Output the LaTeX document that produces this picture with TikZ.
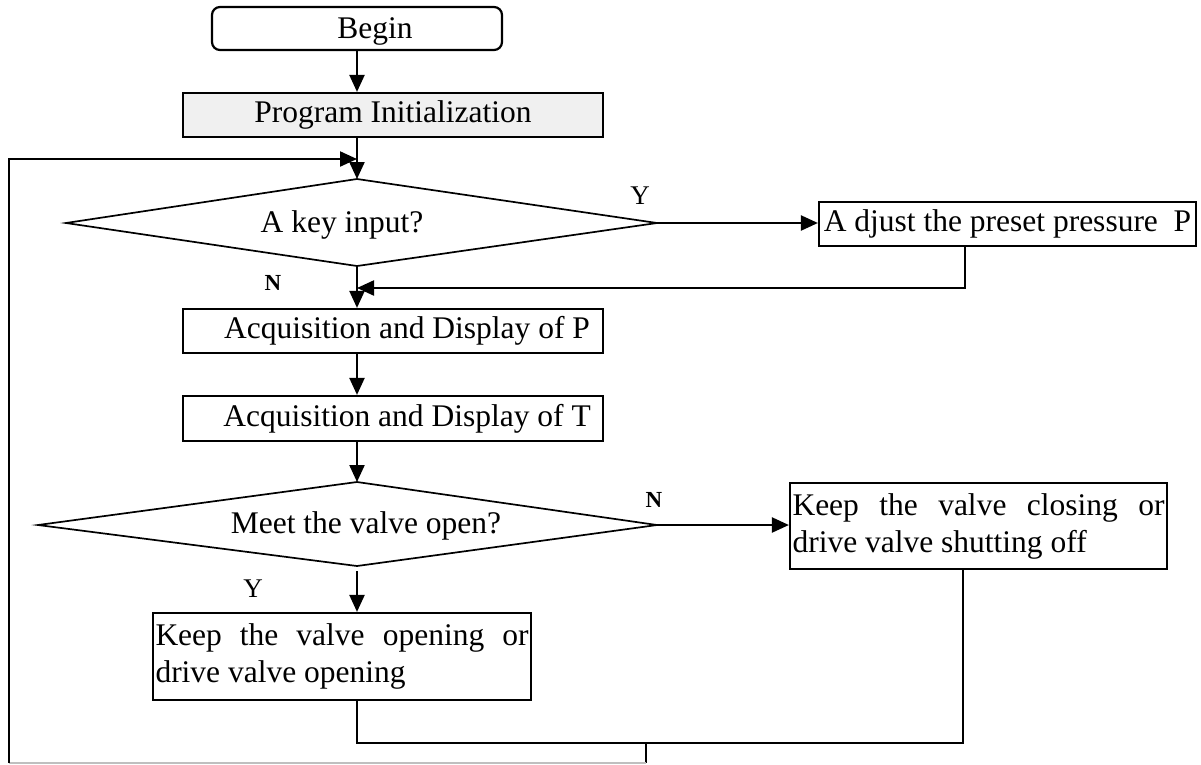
\documentclass[tikz,border=0pt]{standalone}
\usepackage{fontspec}
\setmainfont{Liberation Serif}
\usetikzlibrary{arrows.meta}
\hyphenpenalty=10000
\exhyphenpenalty=10000
\tolerance=10000
\begin{document}
\begin{tikzpicture}[x=1pt,y=-1pt,
  every node/.style={font=\fontsize{31.5}{37}\selectfont},
  box/.style={draw, line width=2.2pt, inner sep=0pt, minimum height=44pt},
  ln/.style={line width=2.2pt},
  dia/.style={line width=1.7pt},
  arr/.style={ln, -{Triangle[length=17pt,width=15pt]}},
  lbl/.style={font=\fontsize{27}{30}\selectfont, inner sep=0pt},
  nlbl/.style={font=\fontsize{23}{26}\selectfont\bfseries, inner sep=0pt},
  para/.style={box, align=justify}
]
\useasboundingbox (0,0) rectangle (1201,764);

% boxes
\node[box, rounded corners=8pt, minimum width=290pt, minimum height=43pt, text depth=0pt] (begin) at (357,28.5) {\hspace*{36pt}Begin};
\node[box, fill=black!6, minimum width=420pt] (init) at (393,115) {Program Initialization};
\node[box, minimum width=420pt] (accp) at (393,331) {\hspace*{28pt}Acquisition and Display of P};
\node[box, minimum width=420pt, minimum height=45pt] (acct) at (393,418.5) {\hspace*{28pt}Acquisition and Display of T};
\node[box, minimum width=377pt] (adj) at (1007.5,224) {A djust the preset pressure\ \ P};
\node[para, minimum width=377pt, minimum height=86pt, text width=372pt] (clos) at (978.5,526) {Keep the valve closing or drive valve shutting off};
\node[para, minimum width=378pt, minimum height=87pt, text width=373pt] (open) at (342,656.5) {Keep the valve opening or drive valve opening};

% decision 1
\coordinate (d1t) at (357,179);
\coordinate (d1l) at (66,223);
\coordinate (d1r) at (657,223);
\coordinate (d1b) at (357,266);
\draw[dia] (d1t) -- (d1r) -- (d1b) -- (d1l) -- cycle;
\node (q1) at (342,225) {A key input?};

% decision 2
\coordinate (d2t) at (357,482);
\coordinate (d2l) at (38,525);
\coordinate (d2r) at (657,525);
\coordinate (d2b) at (357,566);
\draw[dia] (d2t) -- (d2r) -- (d2b) -- (d2l) -- cycle;
\node (q2) at (366,526) {Meet the valve open?};

% labels
\node[lbl] (y1) at (640,196) {Y};
\node[nlbl] (n1) at (273,283) {N};
\node[nlbl] (n2) at (654,500) {N};
\node[lbl] (y2) at (253,589) {Y};

% connectors
\draw[arr] (begin.south) -- (begin.south |- init.north);
\draw[arr] (init.south -| d1t) -- (d1t);
\draw[arr] (d1r) -- (d1r -| adj.west);
\coordinate (ret) at (965,288);
\coordinate (retin) at (357,288);
\draw[arr] (adj.south -| ret) -- (ret) -- (retin);
\draw[arr] (d1b) -- (d1b |- accp.north);
\draw[arr] (accp.south -| d1b) -- (acct.north -| d1b);
\draw[arr] (acct.south -| d2t) -- (d2t);
\draw[arr] (d2r) -- (d2r -| clos.west);
\coordinate (d2bs) at (357,571);
\draw[arr] (d2bs) -- (d2bs |- open.north);

% merge and loop back
\coordinate (mL) at (357,743);
\coordinate (mR) at (963,743);
\coordinate (mJ) at (646,743);
\coordinate (lBR) at (646,763);
\coordinate (lBL) at (9,763);
\coordinate (lTL) at (9,159);
\coordinate (lT) at (357,159);
\draw[ln] (open.south -| mL) -- (mL) -- (mR) -- (clos.south -| mR);
\draw[ln] (mJ) -- (lBR);
\draw[ln, black!25] (lBR) -- (lBL);
\draw[arr] (lBL) -- (lTL) -- (lT);
\end{tikzpicture}
\end{document}
